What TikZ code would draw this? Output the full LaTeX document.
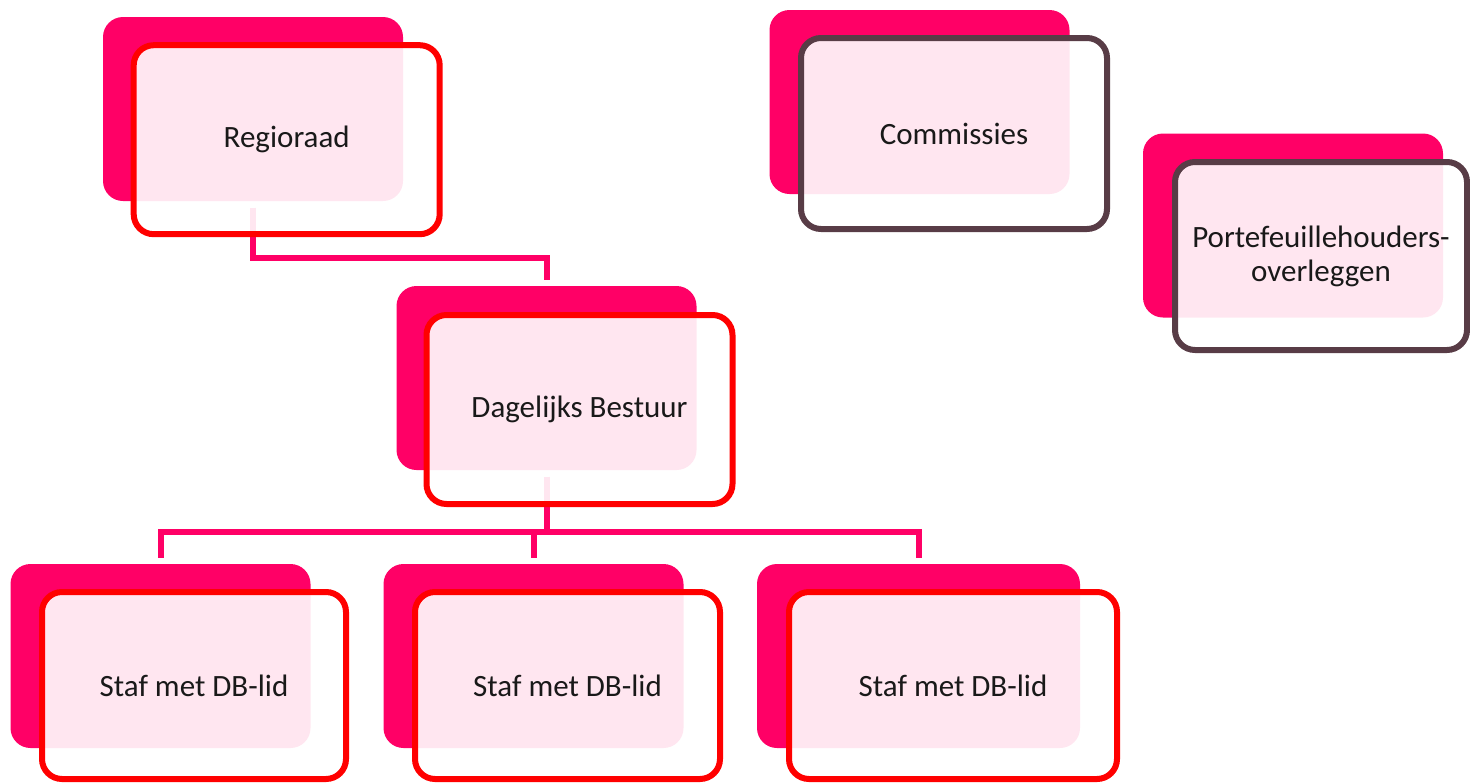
\documentclass[tikz,border=0pt]{standalone}
\usepackage{fontspec}
\setmainfont{Carlito}
\usepackage{xcolor}
\usepackage{tikz}
\definecolor{boxmagenta}{HTML}{FF0066}
\definecolor{boxred}{HTML}{FF0000}
\definecolor{boxdark}{HTML}{583C46}

\begin{document}
\begin{tikzpicture}[x=1pt, y=-1pt,
	backbox/.style={rectangle, rounded corners=20pt, fill=boxmagenta, inner sep=0pt, outer xsep=0pt, outer ysep=6.5pt, minimum width=300pt, minimum height=184pt},
	frontbox/.style={rectangle, rounded corners=20pt, draw=boxred, line width=6pt, fill=white, fill opacity=0.9, text opacity=1, text=black!90, align=center, inner sep=0pt, minimum width=306pt, minimum height=189pt, font=\fontsize{31}{34}\selectfont},
	frontdark/.style={frontbox, draw=boxdark},
	link/.style={draw=boxmagenta, line width=6pt}]
	\useasboundingbox (0,0) rectangle (1470,782);
	% back shapes
	\node[backbox] (raadback) at (253,109){};
	\node[backbox] (dbback) at (546.5,378){};
	\node[backbox] (staf1back) at (160.5,656){};
	\node[backbox] (staf2back) at (533.5,656){};
	\node[backbox, minimum width=323pt] (staf3back) at (918.5,656){};
	\node[backbox] (comback) at (919.5,102){};
	\node[backbox] (portback) at (1293,225.5){};
	% connectors
	\draw[link] (raadback.south) -- ++(0,50) -| (dbback.north);
	\draw[link] (dbback.south) -- ++(0,55) coordinate (bus);
	\draw[link] (staf1back.north) |- (bus) -| (staf3back.north);
	\draw[link] (staf2back.north) -- (staf2back.north |- bus);
	% front shapes
	\node[frontbox] (raad) at (286.7,139.7){Regioraad};
	\node[frontbox] (db) at (579.5,409.5){Dagelijks Bestuur};
	\node[frontbox, minimum width=304pt, minimum height=187pt] (staf1) at (194,685.5){Staf met DB-lid};
	\node[frontbox, minimum width=305pt, minimum height=187pt] (staf2) at (567.5,685.5){Staf met DB-lid};
	\node[frontbox, minimum width=328pt, minimum height=187pt] (staf3) at (953,685.5){Staf met DB-lid};
	\node[frontdark, minimum height=191pt] (com) at (954,133.5){Commissies};
	\node[frontdark, minimum width=292pt, minimum height=188pt] (port) at (1321,256){Portefeuillehouders-\\overleggen};
\end{tikzpicture}
\end{document}
